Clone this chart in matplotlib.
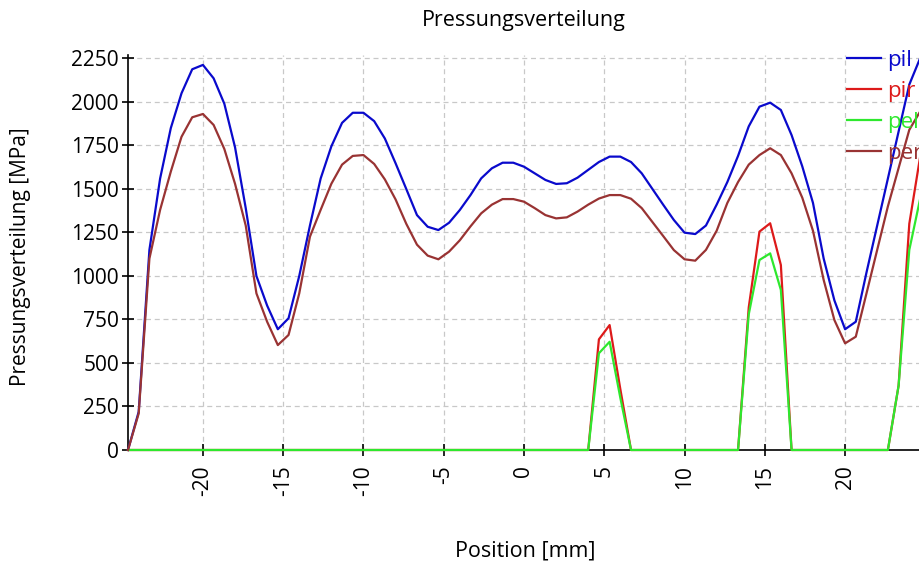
import matplotlib
matplotlib.use("Agg")
import matplotlib.pyplot as plt
import numpy as np

# positions are multiples of 2/3 mm, k = -37 .. 37
position = np.arange(-37, 38) * 2.0 / 3.0

pil = [0, 220, 1150, 1560, 1850, 2050, 2188, 2213, 2136, 1990,
       1740, 1390, 1000, 830, 694, 757, 1000, 1290, 1560, 1745,
       1880, 1938, 1938, 1890, 1790, 1648, 1500, 1350, 1283, 1264,
       1306, 1379, 1465, 1561, 1619, 1651, 1651, 1628, 1590, 1552,
       1529, 1533, 1565, 1610, 1655, 1686, 1686, 1655, 1590, 1500,
       1410, 1322, 1249, 1241, 1290, 1410, 1540, 1690, 1860, 1973,
       1996, 1954, 1810, 1630, 1420, 1100, 860, 694, 737, 1020,
       1290, 1560, 1830, 2100, 2250]

per = [0, 210, 1100, 1380, 1600, 1800, 1912, 1931, 1868, 1730,
       1530, 1290, 900, 737, 603, 661, 900, 1226, 1380, 1530,
       1640, 1690, 1695, 1644, 1555, 1440, 1300, 1180, 1117, 1096,
       1140, 1205, 1285, 1360, 1410, 1442, 1442, 1427, 1390, 1350,
       1331, 1337, 1370, 1410, 1445, 1465, 1465, 1444, 1390, 1310,
       1230, 1149, 1096, 1088, 1150, 1260, 1420, 1540, 1640, 1695,
       1734, 1695, 1590, 1450, 1260, 977, 747, 613, 651, 900,
       1150, 1400, 1620, 1840, 1944]

pir = [0] * 75
pel = [0] * 75
# contact islands (index = k + 37)
pir[44], pir[45], pir[46] = 636, 718, 350
pel[44], pel[45], pel[46] = 556, 622, 300
pir[58], pir[59], pir[60], pir[61] = 820, 1255, 1303, 1063
pel[58], pel[59], pel[60], pel[61] = 780, 1092, 1130, 920
pir[72], pir[73], pir[74] = 370, 1300, 1680
pel[72], pel[73], pel[74] = 370, 1150, 1440

x_ticks = [-20, -15, -10, -5, 0, 5, 10, 15, 20]
y_ticks = [0, 250, 500, 750, 1000, 1250, 1500, 1750, 2000, 2250]

plt.rcParams["font.family"] = ["Open Sans", "DejaVu Sans"]

fig = plt.figure(figsize=(9.2, 5.71), dpi=100)
ax = fig.add_axes([128 / 920, 121 / 571, 792 / 920, 395 / 571])

series = [(pil, "pil", "#0a0acc"), (pir, "pir", "#dd1a1a"),
          (pel, "pel", "#2ee82e"), (per, "per", "#993333")]
for values, name, colour in series:
    ax.plot(position, values, color=colour, lw=1.6, label=name,
            clip_on=False, zorder=3)

ax.set_xlim(position[0], position[-1])
ax.set_ylim(0, 2270)
ax.set_xticks(x_ticks)
ax.set_yticks(y_ticks)
ax.set_xticklabels([str(t) for t in x_ticks], rotation=90)
ax.tick_params(axis="both", labelsize=15, direction="inout", width=1.2)
ax.tick_params(axis="x", length=8, pad=7)
ax.tick_params(axis="y", length=9, pad=2)

ax.grid(True, color="#c8c8c8", linestyle=(0, (4, 3)), linewidth=0.9)
ax.set_axisbelow(True)
for side in ["top", "right"]:
    ax.spines[side].set_visible(False)
for side in ["left", "bottom"]:
    ax.spines[side].set_linewidth(1.2)

ax.set_title("Pressungsverteilung", fontsize=15.5, pad=21)
ax.set_xlabel("Position [mm]", fontsize=15.5)
ax.xaxis.set_label_coords(0.502, -0.23)
ax.set_ylabel("Pressungsverteilung [MPa]", fontsize=15)
ax.yaxis.set_label_coords(-0.122, 0.49)

ax.legend(loc="upper left", bbox_to_anchor=(838 / 920, 1 - 41 / 571),
          bbox_transform=fig.transFigure, frameon=False, fontsize=16,
          labelcolor="linecolor", handlelength=1.55, handletextpad=0.25,
          labelspacing=0.45, borderaxespad=0)

fig.savefig("out.png", dpi=100)
